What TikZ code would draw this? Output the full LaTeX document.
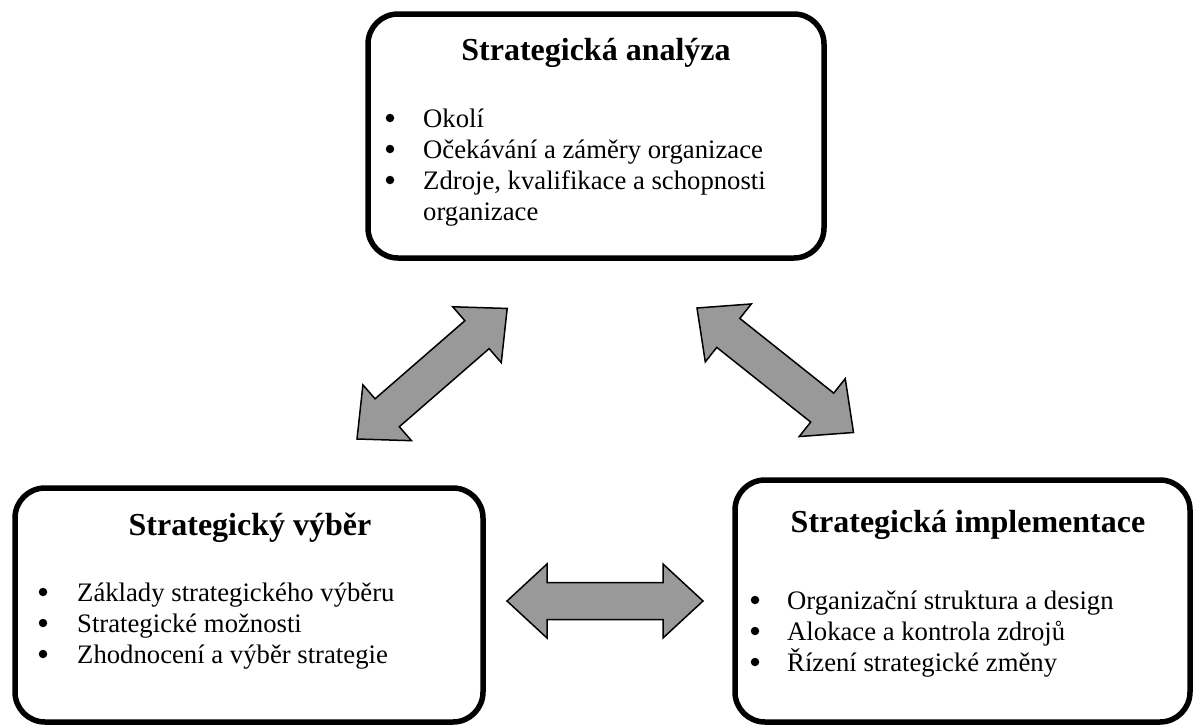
\documentclass[tikz,border=0pt]{standalone}
\usepackage{fontspec}
\setmainfont{Liberation Serif}
\definecolor{arrowgray}{RGB}{153,153,153}
% double-headed block arrow: tip x, tip y, angle, length
\newcommand\dblarrow[4]{%
  \begin{scope}[shift={(#1,#2)}, rotate=#3]
    \draw[blockarrow] (0,0) -- (40,37) -- (40,18.5) -- (#4-40,18.5) -- (#4-40,37)
      -- (#4,0) -- (#4-40,-37) -- (#4-40,-18.5) -- (40,-18.5) -- (40,-37) -- cycle;
  \end{scope}}
\begin{document}
\begin{tikzpicture}[x=1pt,y=-1pt,
  frame/.style={draw=black, line width=5.5pt, rounded corners=30pt},
  heading/.style={anchor=base, inner sep=0pt, font=\fontsize{32}{36}\selectfont\bfseries},
  item/.style={anchor=base west, inner sep=0pt, font=\fontsize{26.7}{30.7}\selectfont},
  blt/.style={circle, fill=black, inner sep=0pt, minimum size=8.5pt},
  blockarrow/.style={fill=arrowgray, draw=black, line width=1.5pt, line join=miter}]
\path[use as bounding box] (0,0) rectangle (1195,726);

% strategic analysis
\draw[frame] (368,14) rectangle (824,258);
\node[heading] (a-title) at (596,60) {Strategická analýza};
\node[blt] (a-b1) at (390,118) {};
\node[item] (a-i1) at (423,127) {Okolí};
\node[blt] (a-b2) at (390,149) {};
\node[item] (a-i2) at (423,158) {Očekávání a záměry organizace};
\node[blt] (a-b3) at (390,180) {};
\node[item] (a-i3) at (423,189) {Zdroje, kvalifikace a schopnosti};
\node[item] (a-i3b) at (423,220) {organizace};

% strategic choice
\draw[frame] (15,488) rectangle (483,722);
\node[heading] (v-title) at (250,535) {Strategický výběr};
\node[blt] (v-b1) at (43,592) {};
\node[item] (v-i1) at (77,601) {Základy strategického výběru};
\node[blt] (v-b2) at (43,623) {};
\node[item] (v-i2) at (77,632) {Strategické možnosti};
\node[blt] (v-b3) at (43,654) {};
\node[item] (v-i3) at (77,663) {Zhodnocení a výběr strategie};

% strategic implementation
\draw[frame] (735,480) rectangle (1190,722);
\node[heading] (i-title) at (968,532) {Strategická implementace};
\node[blt] (i-b1) at (755,600) {};
\node[item] (i-i1) at (787,609) {Organizační struktura a design};
\node[blt] (i-b2) at (755,631) {};
\node[item] (i-i2) at (787,640) {Alokace a kontrola zdrojů};
\node[blt] (i-b3) at (755,662) {};
\node[item] (i-i3) at (787,671) {Řízení strategické změny};

% two-way links
\dblarrow{357}{439}{41}{199}
\dblarrow{697}{308}{-38.5}{200}
\dblarrow{507}{601}{0}{196}
\end{tikzpicture}
\end{document}
